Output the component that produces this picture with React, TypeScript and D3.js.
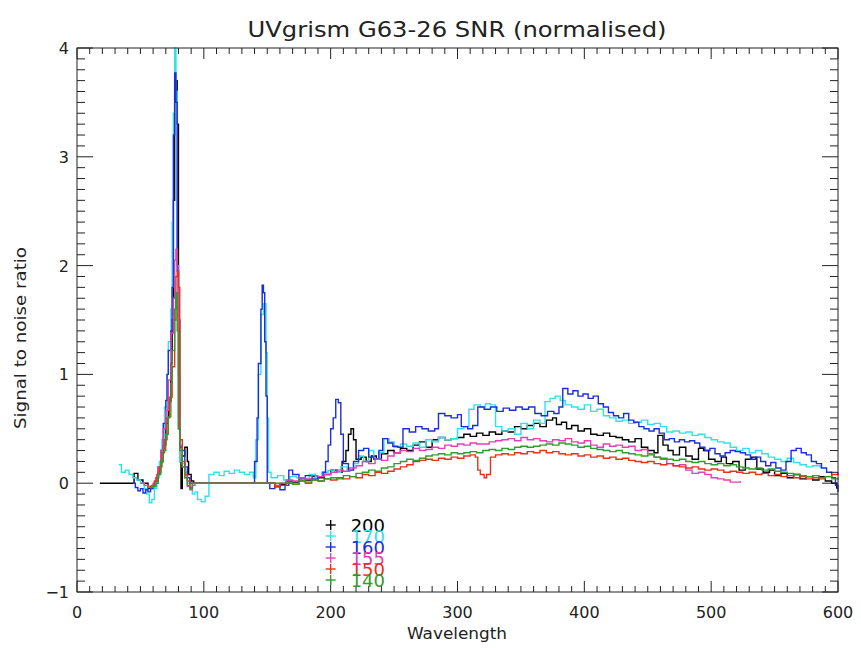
import React from "react";
import * as d3 from "d3";

type Pt = [number, number];

const TITLE = "UVgrism G63-26 SNR (normalised)";
const X_TITLE = "Wavelength";
const Y_TITLE = "Signal to noise ratio";

const legendLabels = ["200", "170", "160", "155", "150", "140"];
const seriesColors = ["#000000", "#30e2e6", "#1c2ed8", "#e23fb8", "#ea3019", "#2f9e2a"];

const snr200: Pt[] = [[18,0],[44,0],[45,0.09],[48,0.03],[52,0.0],[56,-0.05],[59,-0.03],[62,0.02],[64,0.1],[66,0.2],[68,0.35],[70,0.55],[72,0.75],[74,1.1],[75,1.5],[76,2.6],[77,3.6],[78,3.7],[79,3.3],[80,1.5],[81,0.2],[82,-0.05],[83,0.25],[85,0.33],[87,0.2],[88,0.08],[90,0.02],[92,0],[152,0],[156,-0.03],[160,-0.01],[165,0.02],[170,0.01],[175,0.04],[180,0.03],[185,0.06],[190,0.05],[195,0.08],[200,0.12],[205,0.1],[209,0.2],[212,0.3],[214,0.45],[216,0.5],[218,0.4],[220,0.22],[224,0.24],[228,0.2],[232,0.25],[236,0.22],[240,0.27],[245,0.3],[250,0.28],[255,0.32],[260,0.3],[265,0.35],[270,0.38],[275,0.33],[280,0.4],[285,0.42],[290,0.4],[295,0.41],[300,0.42],[305,0.45],[310,0.43],[315,0.46],[320,0.44],[325,0.47],[330,0.45],[335,0.48],[340,0.47],[345,0.52],[350,0.5],[355,0.53],[360,0.55],[365,0.52],[370,0.58],[375,0.6],[378,0.54],[382,0.56],[386,0.5],[390,0.53],[395,0.48],[400,0.5],[405,0.45],[410,0.44],[415,0.46],[420,0.43],[425,0.42],[430,0.4],[435,0.38],[440,0.41],[445,0.33],[450,0.3],[455,0.28],[458,0.44],[462,0.35],[466,0.3],[470,0.26],[475,0.33],[480,0.25],[485,0.22],[490,0.32],[494,0.3],[498,0.22],[503,0.2],[508,0.24],[512,0.18],[517,0.2],[522,0.12],[527,0.22],[532,0.24],[536,0.13],[541,0.1],[546,0.12],[550,0.07],[555,0.09],[560,0.05],[565,0.08],[570,0.04],[575,0.06],[580,0.03],[585,0.06],[590,0.02],[595,0.0],[599,-0.05]];

const snr170: Pt[] = [[33,0.17],[35,0.1],[38,0.12],[41,0.08],[44,0.05],[47,0.03],[50,0.0],[53,-0.05],[55,-0.1],[57,-0.18],[59,-0.15],[61,-0.05],[63,0.05],[65,0.2],[67,0.4],[69,0.7],[71,1.0],[72,1.3],[74,1.6],[75,2.4],[76,3.4],[77,4.0],[78,3.6],[79,2.0],[80,0.6],[81,0.2],[83,0.18],[85,0.1],[87,0.0],[89,-0.05],[91,-0.1],[93,-0.08],[95,-0.15],[98,-0.17],[101,-0.12],[104,0.08],[108,0.1],[112,0.07],[116,0.11],[120,0.09],[124,0.12],[128,0.1],[132,0.08],[136,0.1],[139,0.05],[141,0.4],[143,1.0],[145,1.55],[147,1.65],[149,1.2],[150,0.6],[151,0.1],[153,0.05],[158,0.07],[163,0.03],[168,0.06],[173,0.05],[178,0.04],[183,0.08],[188,0.06],[193,0.1],[198,0.12],[203,0.1],[208,0.15],[213,0.12],[218,0.18],[222,0.25],[226,0.2],[230,0.3],[234,0.22],[238,0.28],[242,0.41],[246,0.38],[250,0.33],[255,0.36],[260,0.34],[265,0.37],[270,0.33],[275,0.4],[280,0.38],[285,0.42],[290,0.4],[295,0.41],[300,0.5],[305,0.52],[309,0.68],[313,0.72],[318,0.7],[322,0.73],[326,0.72],[330,0.52],[335,0.48],[340,0.5],[345,0.45],[350,0.55],[355,0.5],[360,0.58],[365,0.55],[369,0.75],[373,0.78],[377,0.8],[381,0.76],[385,0.72],[390,0.7],[395,0.68],[400,0.72],[405,0.66],[410,0.68],[415,0.62],[420,0.6],[425,0.57],[430,0.58],[435,0.55],[440,0.56],[445,0.58],[450,0.54],[455,0.55],[460,0.52],[465,0.47],[470,0.48],[475,0.46],[480,0.47],[485,0.44],[490,0.45],[495,0.42],[500,0.4],[505,0.38],[510,0.37],[515,0.33],[520,0.3],[525,0.32],[530,0.28],[535,0.3],[540,0.27],[545,0.24],[550,0.22],[555,0.2],[560,0.23],[565,0.19],[570,0.17],[575,0.15],[580,0.16],[586,0.14]];

const snr160: Pt[] = [[44,0],[46,-0.04],[48,-0.07],[50,-0.05],[52,-0.09],[54,-0.06],[56,-0.08],[58,-0.05],[60,-0.02],[62,0.05],[64,0.15],[66,0.3],[68,0.55],[70,0.76],[71,1.0],[72,1.22],[74,1.4],[75,1.8],[76,3.2],[77,3.77],[78,3.5],[79,1.95],[80,0.5],[81,0.33],[83,0.3],[85,0.15],[87,0.05],[89,0.0],[92,0],[139,0],[140,0.2],[142,0.6],[143,1.1],[145,1.6],[146,1.82],[147,1.75],[148,1.3],[149,0.8],[150,0.0],[152,-0.05],[156,-0.03],[160,-0.06],[164,-0.02],[167,0.12],[170,0.08],[175,0.05],[180,0.07],[185,0.04],[190,0.06],[194,0.1],[196,0.2],[198,0.35],[200,0.5],[202,0.6],[204,0.77],[206,0.74],[208,0.45],[210,0.18],[214,0.12],[218,0.2],[222,0.3],[226,0.32],[230,0.24],[234,0.22],[238,0.3],[241,0.41],[245,0.37],[249,0.34],[253,0.33],[257,0.5],[262,0.47],[267,0.52],[272,0.5],[277,0.48],[282,0.5],[285,0.64],[290,0.62],[295,0.6],[300,0.63],[303,0.52],[308,0.5],[312,0.53],[316,0.7],[321,0.68],[326,0.7],[331,0.66],[336,0.69],[341,0.67],[346,0.7],[351,0.68],[356,0.7],[361,0.64],[366,0.62],[371,0.66],[376,0.64],[380,0.7],[383,0.87],[387,0.82],[391,0.85],[395,0.8],[399,0.82],[403,0.78],[407,0.8],[411,0.73],[415,0.7],[419,0.65],[423,0.62],[427,0.6],[431,0.64],[435,0.58],[439,0.56],[443,0.52],[447,0.5],[451,0.48],[455,0.5],[459,0.46],[463,0.4],[467,0.41],[471,0.38],[475,0.4],[479,0.38],[483,0.39],[487,0.37],[491,0.33],[495,0.3],[499,0.32],[503,0.27],[507,0.25],[511,0.28],[515,0.3],[519,0.29],[523,0.28],[527,0.26],[531,0.22],[535,0.24],[539,0.2],[543,0.16],[547,0.19],[551,0.14],[555,0.12],[559,0.2],[563,0.3],[567,0.32],[571,0.28],[575,0.26],[579,0.2],[583,0.18],[587,0.14],[591,0.1],[595,0.05],[598,-0.02],[600,-0.08]];

const snr155: Pt[] = [[50,0],[53,-0.02],[56,-0.04],[58,-0.03],[60,0.0],[62,0.05],[64,0.15],[66,0.3],[68,0.5],[70,0.67],[72,0.95],[74,1.38],[76,1.7],[77,2.05],[78,2.15],[79,2.0],[80,1.0],[81,0.35],[83,0.15],[85,0.05],[87,-0.03],[89,-0.06],[91,-0.02],[93,0],[152,0],[156,-0.02],[160,0.0],[165,0.03],[170,0.02],[175,0.05],[180,0.04],[185,0.07],[190,0.06],[195,0.08],[200,0.1],[205,0.12],[210,0.11],[215,0.14],[220,0.16],[225,0.2],[230,0.18],[235,0.22],[240,0.21],[245,0.25],[250,0.28],[255,0.3],[260,0.29],[265,0.32],[270,0.3],[275,0.31],[280,0.33],[285,0.32],[290,0.35],[295,0.34],[300,0.36],[305,0.35],[310,0.37],[315,0.36],[320,0.36],[325,0.38],[330,0.39],[335,0.4],[340,0.41],[345,0.39],[350,0.42],[355,0.4],[360,0.41],[365,0.39],[370,0.38],[375,0.4],[380,0.39],[385,0.41],[390,0.38],[395,0.37],[400,0.39],[405,0.35],[410,0.33],[415,0.36],[420,0.34],[425,0.35],[430,0.33],[435,0.34],[440,0.3],[445,0.31],[450,0.27],[455,0.24],[460,0.22],[465,0.18],[470,0.16],[475,0.17],[480,0.12],[485,0.09],[490,0.1],[495,0.08],[500,0.05],[505,0.04],[510,0.03],[515,0.01],[520,0.01],[523,0.02]];

const snr150: Pt[] = [[57,-0.03],[59,-0.02],[61,0.02],[63,0.08],[65,0.15],[67,0.28],[69,0.4],[71,0.6],[73,0.79],[75,1.07],[77,1.5],[78,1.9],[79,1.95],[80,1.8],[81,0.4],[83,0.2],[85,0.08],[87,0.02],[89,-0.04],[91,0],[152,0],[156,-0.03],[160,-0.02],[165,0.0],[170,-0.01],[175,0.02],[180,0.01],[185,0.03],[190,0.02],[195,0.04],[200,0.03],[205,0.05],[210,0.04],[215,0.06],[220,0.05],[225,0.08],[230,0.07],[235,0.1],[240,0.09],[245,0.11],[250,0.13],[255,0.15],[260,0.17],[265,0.2],[270,0.21],[275,0.22],[280,0.21],[285,0.23],[290,0.22],[295,0.24],[300,0.23],[305,0.25],[310,0.26],[314,0.24],[316,0.12],[318,0.08],[321,0.05],[323,0.08],[326,0.24],[330,0.26],[335,0.27],[340,0.26],[345,0.28],[350,0.27],[355,0.29],[360,0.28],[365,0.3],[370,0.28],[375,0.29],[380,0.27],[385,0.26],[390,0.27],[395,0.25],[400,0.26],[405,0.24],[410,0.25],[415,0.23],[420,0.24],[425,0.22],[430,0.23],[435,0.21],[440,0.2],[445,0.19],[450,0.2],[455,0.18],[460,0.17],[465,0.18],[470,0.16],[475,0.15],[480,0.14],[485,0.15],[490,0.13],[495,0.12],[500,0.13],[505,0.12],[510,0.1],[515,0.11],[520,0.1],[525,0.09],[530,0.1],[535,0.08],[540,0.09],[545,0.07],[550,0.08],[555,0.06],[560,0.07],[565,0.05],[570,0.06],[575,0.04],[580,0.05],[585,0.04],[590,0.06],[595,0.08],[600,0.1]];

const snr140: Pt[] = [[58,-0.04],[60,-0.03],[62,0.0],[64,0.08],[66,0.2],[68,0.3],[70,0.45],[72,0.61],[74,0.92],[75,1.22],[77,1.6],[78,1.75],[79,1.4],[80,0.5],[81,0.3],[83,0.15],[85,0.05],[87,-0.02],[89,-0.05],[91,0],[160,0],[165,0.01],[170,-0.01],[175,0.02],[180,0.0],[185,0.03],[190,0.02],[195,0.04],[200,0.05],[205,0.04],[210,0.07],[215,0.06],[220,0.09],[225,0.1],[230,0.12],[235,0.11],[240,0.14],[245,0.15],[250,0.18],[255,0.2],[260,0.22],[265,0.21],[270,0.23],[275,0.25],[280,0.26],[285,0.27],[290,0.26],[295,0.28],[300,0.27],[305,0.28],[310,0.29],[315,0.28],[320,0.3],[325,0.31],[330,0.3],[335,0.32],[340,0.31],[345,0.33],[350,0.34],[355,0.33],[360,0.34],[365,0.35],[370,0.36],[375,0.35],[380,0.37],[385,0.36],[390,0.35],[395,0.33],[400,0.34],[405,0.32],[410,0.31],[415,0.3],[420,0.29],[425,0.3],[430,0.28],[435,0.27],[440,0.26],[445,0.25],[450,0.26],[455,0.24],[460,0.23],[465,0.22],[470,0.21],[475,0.22],[480,0.2],[485,0.19],[490,0.2],[495,0.18],[500,0.17],[505,0.18],[510,0.16],[515,0.17],[520,0.15],[525,0.14],[530,0.13],[535,0.14],[540,0.12],[545,0.13],[550,0.11],[555,0.1],[560,0.09],[565,0.08],[570,0.07],[575,0.06],[580,0.07],[585,0.05],[590,0.06],[595,0.04],[600,0.05]];

const allSeries = [snr200, snr170, snr160, snr155, snr150, snr140];

const W = 861;
const H = 648;
const L = 77, R = 838, T = 48, B = 592;
const FONT = "'DejaVu Sans', sans-serif";
const INK = "#222";

export default function App() {
  const x = d3.scaleLinear().domain([0, 600]).range([L, R]);
  const y = d3.scaleLinear().domain([-1, 4]).range([B, T]);
  const line = d3
    .line<Pt>()
    .x((d) => x(d[0]))
    .y((d) => y(d[1]))
    .curve(d3.curveStepAfter);

  const xMajor = x.ticks(6);
  const xMinor = x.ticks(60).filter((v) => !xMajor.includes(v));
  const yMajor = y.ticks(5);
  const yMinor = y.ticks(50).filter((v) => !yMajor.some((m) => Math.abs(m - v) < 1e-9));

  const xMajLen = 11, xMinLen = 6, yMajLen = 16, yMinLen = 8;

  return (
    <svg
      width={W}
      height={H}
      style={{ position: "absolute", left: 0, top: 0, background: "#fff" }}
      fontFamily={FONT}
    >
      <rect x={0} y={0} width={W} height={H} fill="#fff" />
      <text x={457} y={37} textAnchor="middle" fontSize={22} fill={INK} textLength={419} lengthAdjust="spacingAndGlyphs">
        {TITLE}
      </text>

      <g>
        {allSeries.map((s, i) => (
          <path key={i} d={line(s) || ""} fill="none" stroke={seriesColors[i]} strokeWidth={1.4} strokeLinejoin="miter" />
        ))}
      </g>

      <g stroke={INK} strokeWidth={1}>
        <rect x={L} y={T} width={R - L} height={B - T} fill="none" />
        {xMajor.map((v) => (
          <g key={"xm" + v}>
            <line x1={x(v)} x2={x(v)} y1={B} y2={B - xMajLen} />
            <line x1={x(v)} x2={x(v)} y1={T} y2={T + xMajLen} />
          </g>
        ))}
        {xMinor.map((v) => (
          <g key={"xn" + v}>
            <line x1={x(v)} x2={x(v)} y1={B} y2={B - xMinLen} />
            <line x1={x(v)} x2={x(v)} y1={T} y2={T + xMinLen} />
          </g>
        ))}
        {yMajor.map((v) => (
          <g key={"ym" + v}>
            <line x1={L} x2={L + yMajLen} y1={y(v)} y2={y(v)} />
            <line x1={R} x2={R - yMajLen} y1={y(v)} y2={y(v)} />
          </g>
        ))}
        {yMinor.map((v) => (
          <g key={"yn" + v}>
            <line x1={L} x2={L + yMinLen} y1={y(v)} y2={y(v)} />
            <line x1={R} x2={R - yMinLen} y1={y(v)} y2={y(v)} />
          </g>
        ))}
      </g>

      <g fontSize={16} fill={INK}>
        {xMajor.map((v) => (
          <text key={"xl" + v} x={x(v)} y={618} textAnchor="middle">
            {String(v)}
          </text>
        ))}
        {yMajor.map((v) => (
          <text key={"yl" + v} x={69} y={y(v) + 6} textAnchor="end">
            {v < 0 ? "\u2212" + Math.abs(v) : String(v)}
          </text>
        ))}
      </g>

      <text x={457} y={639} textAnchor="middle" fontSize={16} fill={INK} textLength={100} lengthAdjust="spacingAndGlyphs">
        {X_TITLE}
      </text>
      <text
        transform={`translate(26,338) rotate(-90)`}
        textAnchor="middle"
        fontSize={16}
        fill={INK}
        textLength={182}
        lengthAdjust="spacingAndGlyphs"
      >
        {Y_TITLE}
      </text>

      <g>
        {legendLabels.map((lab, i) => {
          const cy = 525 + i * 11;
          const cx = x(200);
          return (
            <g key={lab}>
              <line x1={cx - 5} x2={cx + 5} y1={cy} y2={cy} stroke={seriesColors[i]} strokeWidth={1.4} />
              <line x1={cx} x2={cx} y1={cy - 5} y2={cy + 5} stroke={seriesColors[i]} strokeWidth={1.4} />
              <text x={cx + 20} y={cy + 7} fontSize={18} fill={seriesColors[i]}>
                {lab}
              </text>
            </g>
          );
        })}
      </g>
    </svg>
  );
}
